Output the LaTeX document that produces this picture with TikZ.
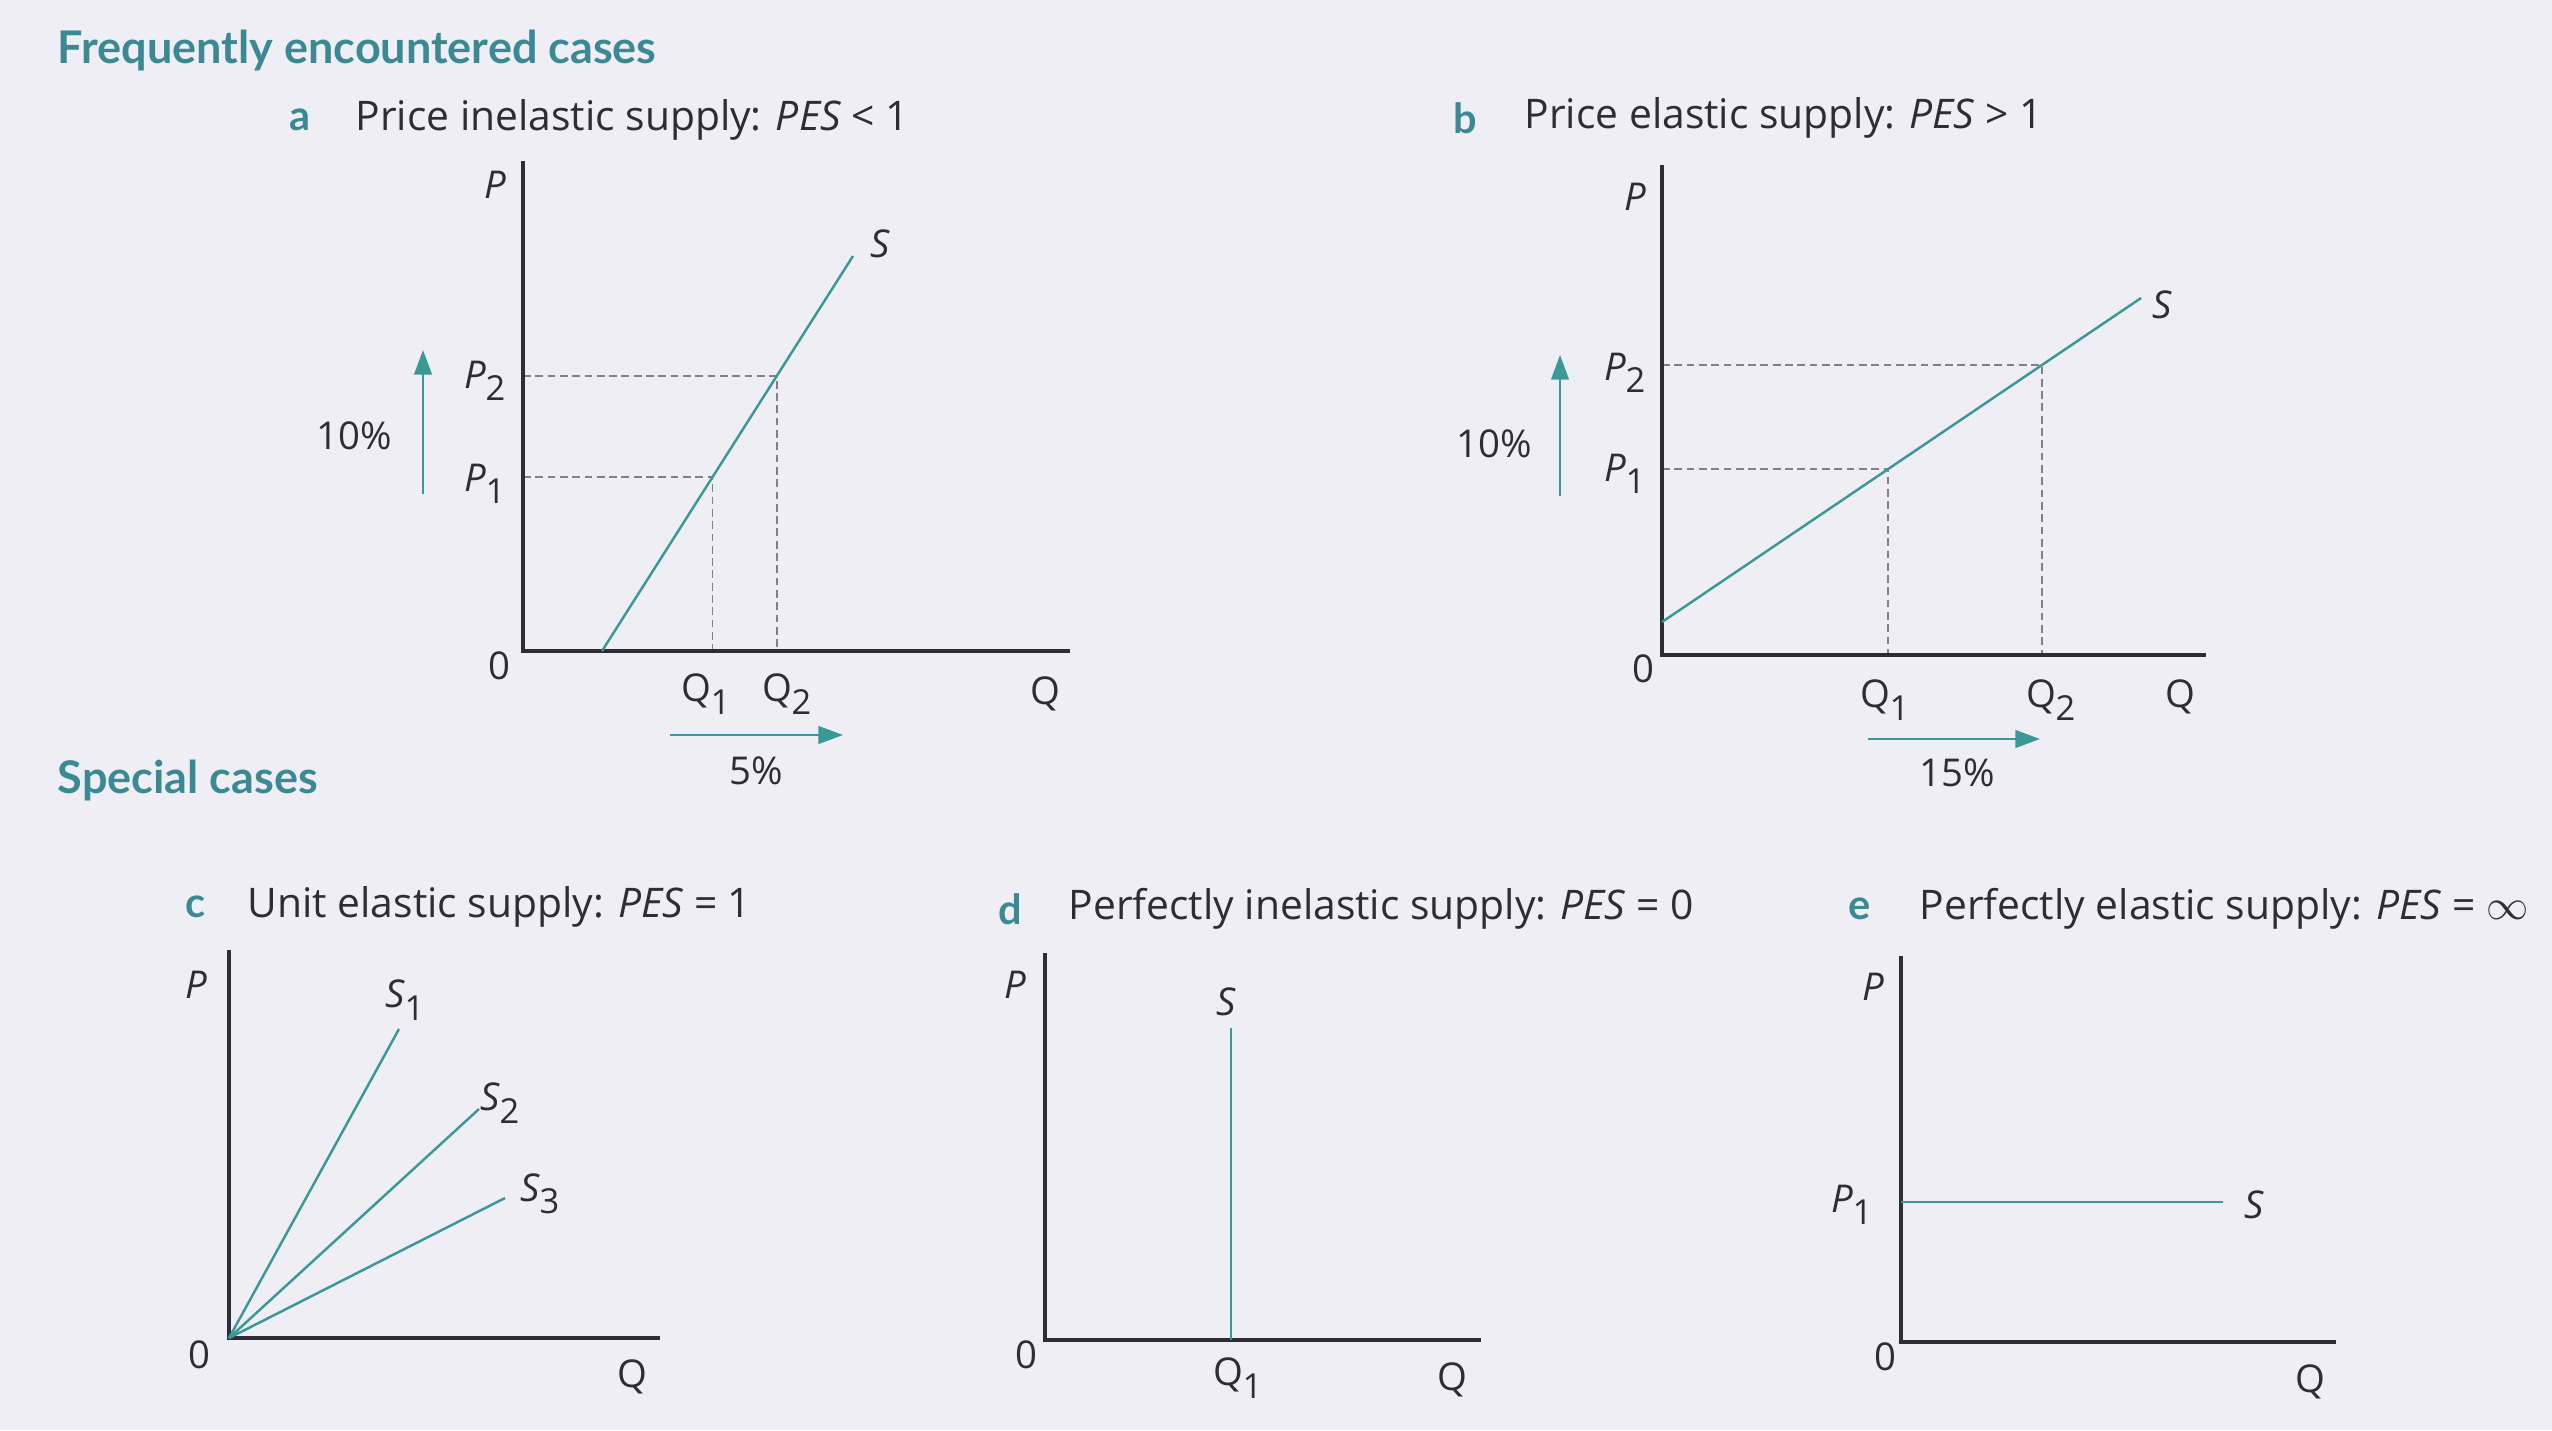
\documentclass[tikz,border=0pt]{standalone}
\usepackage{fontspec}
\setmainfont{Open Sans}
\newfontfamily\headfont{Lato}
\usetikzlibrary{arrows.meta}
\definecolor{tealhd}{HTML}{3B8A93}
\definecolor{tealln}{HTML}{3A9896}
\definecolor{ink}{HTML}{2D2D33}
\definecolor{pagebg}{HTML}{EFEEF4}
\definecolor{guidecol}{HTML}{80808A}
\newcommand{\vsub}[2]{#1\kern-0.02em\raisebox{-0.32em}{\fontsize{9.8}{10}\selectfont #2}}
\begin{document}
\begin{tikzpicture}[x=0.01cm,y=-0.01cm,
  every node/.style={inner sep=0pt,text=ink,font=\fontsize{10.9}{13}\selectfont},
  axis/.style={draw=ink,line width=0.9pt},
  curve/.style={draw=tealln,line width=0.7pt},
  guide/.style={draw=guidecol,line width=0.45pt,dash pattern=on 2.2pt off 1.3pt},
  pct/.style={draw=tealln,line width=0.7pt,-{Triangle[length=7pt,width=5pt]}},
  heading/.style={anchor=west,text=tealhd,font=\headfont\fontsize{12.8}{14}\selectfont\bfseries},
  letter/.style={text=tealhd,font=\headfont\fontsize{11.8}{13}\selectfont\bfseries},
  caption/.style={anchor=west,font=\fontsize{11.6}{13}\selectfont}]
\fill[pagebg] (0,0) rectangle (2552,1430);
\useasboundingbox (0,0) rectangle (2552,1430);

% headings
\node[heading] (hfreq) at (57,51) {Frequently encountered cases};
\node[heading] (hspec) at (57,781) {Special cases};

% ---------- graph a ----------
\node[letter] (la) at (300,120) {a};
\node[caption] (ta) at (355,120) {Price inelastic supply: \textit{PES} < 1};
\coordinate (aO) at (523,651);
\coordinate (aT) at (523,161);
\coordinate (aR) at (1070,651);
\coordinate (aS0) at (602,651);
\coordinate (aS1) at (853,256);
\coordinate (aE1) at (712.6,477);
\coordinate (aE2) at (776.7,376);
\draw[guide] (aE1 -| aO) -- (aE1) -- (aE1 |- aO);
\draw[guide] (aE2 -| aO) -- (aE2) -- (aE2 |- aO);
\draw[axis] (aT) -- (aO) -- (aR);
\draw[curve] (aS0) -- (aS1);
\coordinate (aU0) at (423,494);
\coordinate (aU1) at (423,350);
\draw[pct] (aU0) -- (aU1);
\coordinate (aH0) at (670,735);
\coordinate (aH1) at (843,735);
\draw[pct] (aH0) -- (aH1);
\node (aP) at (495,185) {\textit{P}};
\node (aSl) at (880,244) {\textit{S}};
\node[anchor=east] (aP2) at (506,381) {\vsub{\textit{P}}{2}};
\node[anchor=east] (aP1) at (506,484) {\vsub{\textit{P}}{1}};
\node (a10) at (354,436) {10\%};
\node (a0) at (499,666) {0};
\node (aQ1) at (706,694) {\vsub{Q}{1}};
\node (aQ2) at (787,694) {\vsub{Q}{2}};
\node (aQ) at (1045,694) {Q};
\node (a5) at (756,771) {5\%};

% ---------- graph b ----------
\node[letter] (lb) at (1465,118) {b};
\node[caption] (tb) at (1524,118) {Price elastic supply: \textit{PES} > 1};
\coordinate (bO) at (1662,655);
\coordinate (bT) at (1662,165);
\coordinate (bR) at (2206,655);
\coordinate (bS0) at (1662,622);
\coordinate (bS1) at (2141,298);
\coordinate (bE1) at (1888.2,469);
\coordinate (bE2) at (2042,365);
\draw[guide] (bE1 -| bO) -- (bE1) -- (bE1 |- bO);
\draw[guide] (bE2 -| bO) -- (bE2) -- (bE2 |- bO);
\draw[axis] (bT) -- (bO) -- (bR);
\draw[curve] (bS0) -- (bS1);
\coordinate (bU0) at (1560,496);
\coordinate (bU1) at (1560,355);
\draw[pct] (bU0) -- (bU1);
\coordinate (bH0) at (1868,739);
\coordinate (bH1) at (2040,739);
\draw[pct] (bH0) -- (bH1);
\node (bP) at (1635,197) {\textit{P}};
\node (bSl) at (2162,305) {\textit{S}};
\node[anchor=east] (bP2) at (1646,373) {\vsub{\textit{P}}{2}};
\node[anchor=east] (bP1) at (1646,474) {\vsub{\textit{P}}{1}};
\node (b10) at (1494,444) {10\%};
\node (b0) at (1643,669) {0};
\node (bQ1) at (1885,700) {\vsub{Q}{1}};
\node (bQ2) at (2051,700) {\vsub{Q}{2}};
\node (bQ) at (2180,697) {Q};
\node (b15) at (1957,773) {15\%};

% ---------- graph c ----------
\node[letter] (lc) at (195,907) {c};
\node[caption] (tc) at (247,907) {Unit elastic supply: \textit{PES} = 1};
\coordinate (cO) at (229,1338);
\coordinate (cT) at (229,950);
\coordinate (cR) at (660,1338);
\coordinate (cS1) at (399,1029);
\coordinate (cS2) at (479,1109);
\coordinate (cS3) at (505,1198);
\draw[axis] (cT) -- (cO) -- (cR);
\draw[curve] (cO) -- (cS1);
\draw[curve] (cO) -- (cS2);
\draw[curve] (cO) -- (cS3);
\node (cP) at (196,985) {\textit{P}};
\node (cL1) at (405,1000) {\vsub{\textit{S}}{1}};
\node (cL2) at (500,1103) {\vsub{\textit{S}}{2}};
\node (cL3) at (540,1194) {\vsub{\textit{S}}{3}};
\node (c0) at (199,1355) {0};
\node (cQ) at (632,1377) {Q};

% ---------- graph d ----------
\node[letter] (ld) at (1010,909) {d};
\node[caption] (td) at (1068,909) {Perfectly inelastic supply: \textit{PES} = 0};
\coordinate (dO) at (1045,1340);
\coordinate (dT) at (1045,953);
\coordinate (dR) at (1481,1340);
\coordinate (dS0) at (1231,1340);
\coordinate (dS1) at (1231,1028);
\draw[axis] (dT) -- (dO) -- (dR);
\draw[curve] (dS0) -- (dS1);
\node (dP) at (1015,985) {\textit{P}};
\node (dSl) at (1226,1002) {\textit{S}};
\node (d0) at (1026,1355) {0};
\node (dQ1) at (1238,1378) {\vsub{Q}{1}};
\node (dQ) at (1452,1380) {Q};

% ---------- graph e ----------
\node[letter] (le) at (1860,909) {e};
\node[caption] (te) at (1919,909) {Perfectly elastic supply: \textit{PES} = $\infty$};
\coordinate (eO) at (1901,1342);
\coordinate (eT) at (1901,956);
\coordinate (eR) at (2336,1342);
\coordinate (eS0) at (1901,1202);
\coordinate (eS1) at (2223,1202);
\draw[axis] (eT) -- (eO) -- (eR);
\draw[curve] (eS0) -- (eS1);
\node (eP) at (1873,987) {\textit{P}};
\node[anchor=east] (eP1) at (1873,1205) {\vsub{\textit{P}}{1}};
\node (eSl) at (2254,1205) {\textit{S}};
\node (e0) at (1885,1357) {0};
\node (eQ) at (2310,1382) {Q};
\end{tikzpicture}
\end{document}
